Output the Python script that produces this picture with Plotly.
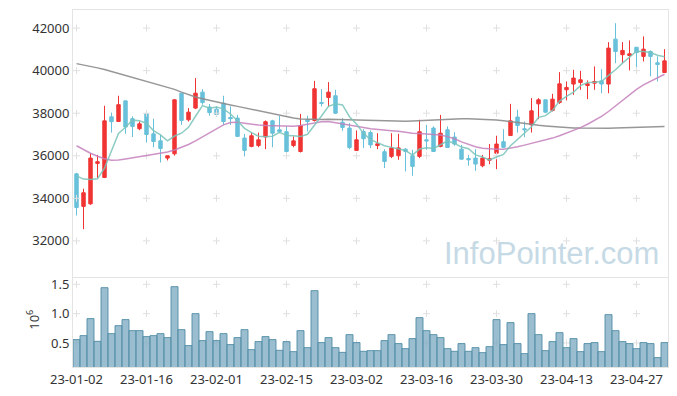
import plotly.graph_objects as go
import pandas as pd

dates = [
    "23-01-02","23-01-03","23-01-04","23-01-05","23-01-06","23-01-09","23-01-10","23-01-11","23-01-12","23-01-13",
    "23-01-16","23-01-17","23-01-18","23-01-19","23-01-20","23-01-25","23-01-26","23-01-27","23-01-30","23-01-31",
    "23-02-01","23-02-02","23-02-03","23-02-06","23-02-07","23-02-08","23-02-09","23-02-10","23-02-13","23-02-14",
    "23-02-15","23-02-16","23-02-17","23-02-20","23-02-21","23-02-22","23-02-23","23-02-24","23-02-27","23-02-28",
    "23-03-02","23-03-03","23-03-06","23-03-07","23-03-08","23-03-09","23-03-10","23-03-13","23-03-14","23-03-15",
    "23-03-16","23-03-17","23-03-20","23-03-21","23-03-22","23-03-23","23-03-24","23-03-27","23-03-28","23-03-29",
    "23-03-30","23-03-31","23-04-03","23-04-04","23-04-05","23-04-06","23-04-07","23-04-10","23-04-11","23-04-12",
    "23-04-13","23-04-14","23-04-17","23-04-18","23-04-19","23-04-20","23-04-21","23-04-24","23-04-25","23-04-26",
    "23-04-27","23-04-28","23-05-02","23-05-03","23-05-04",
]

opens = [35150,33620,33740,35640,34980,37830,37610,38580,37740,37270,
         37970,37030,36700,35890,36090,38940,37690,38240,38990,38290,
         38190,38470,37800,37770,36830,36440,36480,36880,37640,37220,
         37130,36480,36200,37690,37660,38500,38740,38820,37580,37300,
         36250,37140,37090,36480,36190,35970,36000,36310,36000,35970,
         36750,37300,36440,37220,36880,36310,35870,35890,35530,35790,
         36120,36660,36950,37820,37270,37450,38440,38630,38130,38500,
         39100,39370,39440,39300,39410,39520,39370,41480,40750,40710,
         41100,40670,40900,40370,39910]
highs = [35200,34450,36120,36040,38350,38030,38820,38580,37850,37610,
         37970,37740,36980,36010,38660,38940,38240,39650,39130,38430,
         38320,38820,38320,37920,37030,37090,37090,37660,37690,37880,
         37380,36910,37970,37880,39520,39130,39460,39100,37770,37530,
         37190,37250,37190,37060,36310,37060,37030,36360,36280,37690,
         37450,37380,37920,37380,37110,36510,36040,36310,36040,36550,
         36940,37250,38440,38160,37610,38710,38710,38630,38910,39930,
         39490,40040,39990,39540,40200,40070,41340,42230,41340,41420,
         41100,41610,40950,40670,41010]
lows = [33190,32550,33690,34950,34950,37090,37610,37030,36880,37200,
        36620,36400,35680,35780,36010,37450,37610,38190,38400,37880,
        37820,37450,37450,36880,35970,36400,36400,36310,36400,37060,
        36120,36400,36150,37140,37610,38320,38320,37960,37170,36310,
        36230,36360,36360,36310,35420,35890,35810,35260,35060,35890,
        36280,36200,36400,36360,36470,35810,35530,35290,35460,35600,
        35370,36360,36950,37090,36870,37090,37720,38000,38080,38440,
        38600,38860,39100,38660,39100,38940,38940,40350,40350,40010,
        39880,40430,39730,39490,39910]
closes = [33570,34260,35890,35720,37640,37600,38400,37350,37380,37500,
          37000,36670,36340,36000,38630,37660,38050,38940,38500,38030,
          37940,37610,37740,36910,36250,36940,36750,37600,37060,37130,
          36200,36700,37410,37610,39150,38460,38990,38000,37330,36390,
          36750,36800,36510,36560,35730,36370,36370,36200,35500,37130,
          36700,36200,37060,36390,36550,35840,35810,35610,35890,35860,
          36550,36400,37640,37420,37220,38110,38630,38050,38660,39380,
          39210,39650,39570,39380,39490,39370,41060,40900,40950,40790,
          40850,41010,40670,40290,40460]
prior_closes = [35010, 35990, 35520, 35170]

ma20 = [36470,36280,36120,35980,35860,35790,35800,35850,35900,35950,
        36000,36060,36120,36180,36270,36400,36530,36700,36880,37050,
        37250,37450,37560,37580,37530,37470,37440,37420,37410,37400,
        37380,37390,37420,37480,37550,37600,37610,37560,37500,37440,
        37400,37330,37270,37230,37200,37180,37150,37100,37060,37040,
        37030,37010,36980,36900,36800,36650,36540,36420,36350,36310,
        36300,36310,36350,36420,36500,36580,36660,36740,36830,36940,
        37060,37180,37320,37480,37650,37850,38080,38350,38620,38880,
        39120,39330,39510,39680,39830]
ma60 = [40330,40270,40200,40130,40050,39960,39860,39760,39670,39580,
        39490,39410,39320,39230,39120,38990,38860,38760,38680,38600,
        38530,38460,38390,38320,38250,38180,38110,38040,37970,37900,
        37830,37770,37730,37710,37700,37700,37710,37700,37690,37680,
        37670,37660,37640,37630,37620,37610,37610,37620,37630,37650,
        37670,37690,37710,37720,37730,37740,37740,37730,37720,37700,
        37680,37650,37600,37550,37510,37470,37430,37400,37370,37350,
        37330,37310,37300,37290,37290,37290,37290,37300,37310,37320,
        37330,37340,37350,37360,37370]

volume_m = [0.557,0.625,0.915,0.528,1.443,0.659,0.795,0.898,0.710,0.710,
            0.608,0.625,0.659,0.591,1.460,0.727,0.455,1.000,0.540,0.693,
            0.540,0.659,0.472,0.591,0.727,0.386,0.523,0.608,0.557,0.375,
            0.523,0.352,0.710,0.420,1.392,0.506,0.591,0.420,0.340,0.642,
            0.506,0.358,0.369,0.369,0.540,0.642,0.489,0.403,0.574,0.932,
            0.710,0.642,0.591,0.403,0.358,0.489,0.358,0.420,0.335,0.437,
            0.898,0.472,0.847,0.489,0.318,1.000,0.642,0.369,0.523,0.676,
            0.420,0.574,0.352,0.489,0.506,0.352,0.983,0.710,0.523,0.489,
            0.403,0.506,0.489,0.250,0.506]

price_ticks = [32000, 34000, 36000, 38000, 40000, 42000]
volume_ticks = [0.5, 1.0, 1.5]
date_ticks = dates[::10]

ma5 = pd.Series(prior_closes + closes).rolling(5).mean().iloc[len(prior_closes):].tolist()

RED = "rgb(240,52,52)"
BLUE = "rgb(104,192,218)"
GRID = "#e0e0e0"
FONT = "Noto Sans"
VOL_RANGE = [0.09, 1.6]

fig = go.Figure()

# grid crosses at tick intersections
gx = [d for d in date_ticks for _ in price_ticks]
gy = [p for _ in date_ticks for p in price_ticks]
fig.add_trace(go.Scatter(x=gx, y=gy, mode="markers", xaxis="x", yaxis="y",
                         marker=dict(symbol="cross-thin", size=5, line=dict(color=GRID, width=1)),
                         hoverinfo="skip", showlegend=False))
gx2 = [d for d in date_ticks for _ in volume_ticks]
gy2 = [v for _ in date_ticks for v in volume_ticks]
fig.add_trace(go.Scatter(x=gx2, y=gy2, mode="markers", xaxis="x2", yaxis="y2",
                         marker=dict(symbol="cross-thin", size=5, line=dict(color=GRID, width=1)),
                         hoverinfo="skip", showlegend=False))

fig.add_trace(go.Candlestick(x=dates, open=opens, high=highs, low=lows, close=closes,
                             xaxis="x", yaxis="y",
                             increasing=dict(line=dict(color=RED, width=1), fillcolor=RED),
                             decreasing=dict(line=dict(color=BLUE, width=1), fillcolor=BLUE),
                             whiskerwidth=0, showlegend=False, hoverinfo="skip"))

fig.add_trace(go.Scatter(x=dates, y=ma60, mode="lines", xaxis="x", yaxis="y",
                         line=dict(color="rgba(140,140,140,0.9)", width=1.5), showlegend=False, hoverinfo="skip"))
fig.add_trace(go.Scatter(x=dates, y=ma20, mode="lines", xaxis="x", yaxis="y",
                         line=dict(color="rgba(196,128,188,0.85)", width=1.5), showlegend=False, hoverinfo="skip"))
fig.add_trace(go.Scatter(x=dates, y=ma5, mode="lines", xaxis="x", yaxis="y",
                         line=dict(color="rgba(120,195,185,0.85)", width=1.5), showlegend=False, hoverinfo="skip"))

# volume bars on an overlay axis so the grid crosses stay beneath them
fig.add_trace(go.Bar(x=dates, y=volume_m, xaxis="x2", yaxis="y3",
                     marker=dict(color="rgba(125,172,195,0.78)", line=dict(color="rgba(80,140,165,0.9)", width=1)),
                     showlegend=False, hoverinfo="skip"))

axis_common = dict(showline=True, linecolor="#e4e4e4", linewidth=1, mirror=True,
                   showgrid=False, zeroline=False, ticks="", automargin=False,
                   tickfont=dict(family=FONT, size=13, color="#333333"))

fig.update_layout(
    width=677, height=396,
    margin=dict(l=73, r=9, t=10, b=29),
    paper_bgcolor="white", plot_bgcolor="white",
    bargap=0,
    showlegend=False,
    xaxis=dict(type="category", categoryorder="array", categoryarray=dates,
               domain=[0, 1], anchor="y", matches="x2", showticklabels=False,
               rangeslider=dict(visible=False), range=[-0.5, len(dates) - 0.5], **axis_common),
    xaxis2=dict(type="category", categoryorder="array", categoryarray=dates,
                domain=[0, 1], anchor="y2", tickmode="array", tickvals=date_ticks, ticktext=date_ticks,
                tickangle=0, range=[-0.5, len(dates) - 0.5], **axis_common),
    yaxis=dict(domain=[0.252, 1], range=[30300, 42850], tickmode="array", tickvals=price_ticks,
               ticktext=[str(p) for p in price_ticks], **axis_common),
    yaxis2=dict(domain=[0, 0.248], range=VOL_RANGE, tickmode="array", tickvals=volume_ticks,
                ticktext=["%.1f" % v for v in volume_ticks], **axis_common),
    yaxis3=dict(overlaying="y2", anchor="x2", range=VOL_RANGE, visible=False,
                showgrid=False, zeroline=False),
    annotations=[
        dict(text="10<sup>6</sup>", xref="paper", yref="paper", x=-0.068, y=0.131,
             xanchor="center", yanchor="middle",
             textangle=-90, showarrow=False, font=dict(family=FONT, size=13, color="#333333")),
        dict(text="InfoPointer.com", xref="paper", yref="paper", x=0.804, y=0.318,
             xanchor="center", yanchor="middle",
             showarrow=False, font=dict(family="Liberation Sans", size=31, color="rgb(198,218,230)")),
    ],
)

fig.write_html("out.html", config={"displayModeBar": False, "staticPlot": True},
               post_script="document.body.style.margin='0';document.body.style.overflow='hidden';")
